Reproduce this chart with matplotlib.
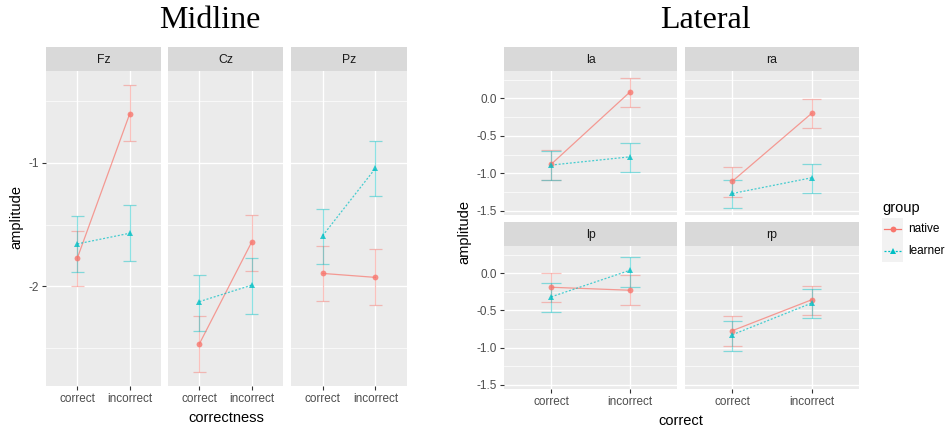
import numpy as np
import matplotlib
matplotlib.use('Agg')
import matplotlib.pyplot as plt

plt.rcParams['font.family'] = ['Liberation Sans', 'DejaVu Sans']

levels = ['correct', 'incorrect']
groups = ['native', 'learner']

# Midline: mean, lower, upper per group (correct, incorrect)
mid_panels = ['Fz', 'Cz', 'Pz']
mid_native = {'Fz': [-1.77, -0.605], 'Cz': [-2.465, -1.642], 'Pz': [-1.895, -1.927]}
mid_native_lo = {'Fz': [-2.00, -0.825], 'Cz': [-2.69, -1.873], 'Pz': [-2.12, -2.15]}
mid_native_hi = {'Fz': [-1.55, -0.373], 'Cz': [-2.24, -1.42], 'Pz': [-1.674, -1.70]}
mid_learner = {'Fz': [-1.656, -1.57], 'Cz': [-2.123, -1.99], 'Pz': [-1.59, -1.045]}
mid_learner_lo = {'Fz': [-1.884, -1.795], 'Cz': [-2.357, -2.22], 'Pz': [-1.82, -1.27]}
mid_learner_hi = {'Fz': [-1.43, -1.34], 'Cz': [-1.905, -1.77], 'Pz': [-1.376, -0.825]}

# Lateral
lat_panels = ['la', 'ra', 'lp', 'rp']
lat_native = {'la': [-0.879, 0.085], 'ra': [-1.105, -0.20], 'lp': [-0.188, -0.228], 'rp': [-0.772, -0.357]}
lat_native_lo = {'la': [-1.083, -0.12], 'ra': [-1.313, -0.39], 'lp': [-0.384, -0.424], 'rp': [-0.973, -0.5625]}
lat_native_hi = {'la': [-0.687, 0.28], 'ra': [-0.92, -0.01], 'lp': [0.0, -0.027], 'rp': [-0.576, -0.165]}
lat_learner = {'la': [-0.89, -0.78], 'ra': [-1.27, -1.06], 'lp': [-0.317, 0.04], 'rp': [-0.826, -0.402]}
lat_learner_lo = {'la': [-1.09, -0.98], 'ra': [-1.47, -1.27], 'lp': [-0.527, -0.179], 'rp': [-1.04, -0.603]}
lat_learner_hi = {'la': [-0.70, -0.60], 'ra': [-1.083, -0.874], 'lp': [-0.125, 0.219], 'rp': [-0.643, -0.214]}

mid_yticks = [-1, -2]
lat_yticks = [0.0, -0.5, -1.0, -1.5]

NATIVE = '#F8766D'
LEARNER = '#00BFC4'
PANEL = '#EBEBEB'
STRIP = '#D9D9D9'
TXT = '#4D4D4D'

W, H = 947, 430
fig = plt.figure(figsize=(W / 100, H / 100), dpi=100)


def box(x0, y0, x1, y1):
    return [x0 / W, 1 - y1 / H, (x1 - x0) / W, (y1 - y0) / H]


def expand(vals):
    lo, hi = min(vals), max(vals)
    r = hi - lo
    return lo - 0.05 * r, hi + 0.05 * r


def panel(x0, x1, sy0, sy1, py1, title, series, ylim, yticks, ylabels, show_x):
    sax = fig.add_axes(box(x0, sy0, x1, sy1))
    sax.set_facecolor(STRIP)
    sax.set_xticks([]); sax.set_yticks([])
    for s in sax.spines.values():
        s.set_visible(False)
    sax.text(0.5, 0.45, title, ha='center', va='center', fontsize=8.8,
             color='#1A1A1A', transform=sax.transAxes)

    ax = fig.add_axes(box(x0, sy1, x1, py1))
    ax.set_facecolor(PANEL)
    for s in ax.spines.values():
        s.set_visible(False)
    ax.set_xlim(0.4, 2.6)
    ax.set_ylim(*ylim)
    xs = np.array([1, 2])
    minors = [(a + b) / 2 for a, b in zip(yticks[:-1], yticks[1:])]
    step = abs(yticks[0] - yticks[1])
    extra = [yticks[0] + step / 2, yticks[-1] - step / 2]
    for m in minors + extra:
        if ylim[0] < m < ylim[1]:
            ax.axhline(m, color='white', lw=0.5, zorder=0)
    for t in yticks:
        ax.axhline(t, color='white', lw=1.0, zorder=0)
    for xv in xs:
        ax.axvline(xv, color='white', lw=1.0, zorder=0)

    for mean, lo, hi, col, mk, ls in series:
        ax.vlines(xs, lo, hi, color=col, lw=0.9, alpha=0.45, zorder=2)
        ax.hlines(lo, xs - 0.125, xs + 0.125, color=col, lw=0.9, alpha=0.45, zorder=2)
        ax.hlines(hi, xs - 0.125, xs + 0.125, color=col, lw=0.9, alpha=0.45, zorder=2)
        ax.plot(xs, mean, color=col, lw=0.9, ls=ls, alpha=0.7, zorder=3)
        ax.plot(xs, mean, color=col, ls='none', marker=mk, ms=4.2, alpha=0.8,
                markeredgewidth=0, zorder=4)

    ax.tick_params(axis='both', labelsize=8.5, colors='#333333', labelcolor=TXT,
                   length=3, width=0.8, pad=2)
    ax.set_xticks(xs)
    if show_x:
        ax.set_xticklabels(levels)
    else:
        ax.set_xticklabels([])
        ax.tick_params(axis='x', length=0)
    ax.set_yticks(yticks)
    if ylabels is not None:
        ax.set_yticklabels(ylabels)
    else:
        ax.set_yticklabels([])
        ax.tick_params(axis='y', length=0)
    return ax


dotted = (0, (1.6, 1.4))

# Midline
mid_all = []
for p in mid_panels:
    mid_all += mid_native_lo[p] + mid_native_hi[p] + mid_learner_lo[p] + mid_learner_hi[p]
mid_lim = expand(mid_all)
mid_x = [(46, 161), (168, 283), (291, 407)]
for i, p in enumerate(mid_panels):
    series = [
        (mid_native[p], mid_native_lo[p], mid_native_hi[p], NATIVE, 'o', '-'),
        (mid_learner[p], mid_learner_lo[p], mid_learner_hi[p], LEARNER, '^', dotted),
    ]
    labels = ['-1', '-2'] if i == 0 else None
    panel(mid_x[i][0], mid_x[i][1], 47, 71, 386, p, series, mid_lim, mid_yticks, labels, True)

# Lateral
lat_all = []
for p in lat_panels:
    lat_all += lat_native_lo[p] + lat_native_hi[p] + lat_learner_lo[p] + lat_learner_hi[p]
lat_lim = expand(lat_all)
lat_x = [(504, 677), (685, 859)]
lat_y = [(47, 71, 215), (222, 246, 389)]
for i, p in enumerate(lat_panels):
    col, row = i % 2, i // 2
    series = [
        (lat_native[p], lat_native_lo[p], lat_native_hi[p], NATIVE, 'o', '-'),
        (lat_learner[p], lat_learner_lo[p], lat_learner_hi[p], LEARNER, '^', dotted),
    ]
    labels = ['0.0', '-0.5', '-1.0', '-1.5'] if col == 0 else None
    sy0, sy1, py1 = lat_y[row]
    panel(lat_x[col][0], lat_x[col][1], sy0, sy1, py1, p, series, lat_lim, lat_yticks,
          labels, row == 1)

# axis titles
fig.text(226.5 / W, 1 - 418 / H, 'correctness', ha='center', va='center', fontsize=10.5, color='black')
fig.text(681 / W, 1 - 421 / H, 'correct', ha='center', va='center', fontsize=10.5, color='black')
fig.text(16 / W, 1 - 217 / H, 'amplitude', ha='center', va='center', rotation=90, fontsize=10.5)
fig.text(464 / W, 1 - 232 / H, 'amplitude', ha='center', va='center', rotation=90, fontsize=10.5)

# big titles
fig.text(210 / W, 1 - 20 / H, 'Midline', ha='center', va='center', fontsize=23,
         family='Liberation Serif')
fig.text(705 / W, 1 - 20 / H, 'Lateral', ha='center', va='center', fontsize=23,
         family='Liberation Serif')

# legend
fig.text(882 / W, 1 - 208 / H, 'group', ha='left', va='center', fontsize=10.5)
lax = fig.add_axes(box(882, 218, 903, 262))
lax.set_xlim(0, 1); lax.set_ylim(0, 2)
lax.axis('off')
lax.add_patch(plt.Rectangle((0, 1.02), 1, 0.96, color='#F2F2F2', lw=0))
lax.add_patch(plt.Rectangle((0, 0.02), 1, 0.96, color='#F2F2F2', lw=0))
for k, (g, col, mk, ls) in enumerate([('native', NATIVE, 'o', '-'), ('learner', LEARNER, '^', dotted)]):
    yv = 1.5 - k
    lax.plot([0.08, 0.92], [yv, yv], color=col, lw=0.9, ls=ls)
    lax.plot([0.5], [yv], color=col, marker=mk, ms=4.2, markeredgewidth=0)
    fig.text(908 / W, 1 - (229 + 22 * k) / H, g, ha='left', va='center', fontsize=8.5, color='black')

fig.savefig('out.png', dpi=100)
